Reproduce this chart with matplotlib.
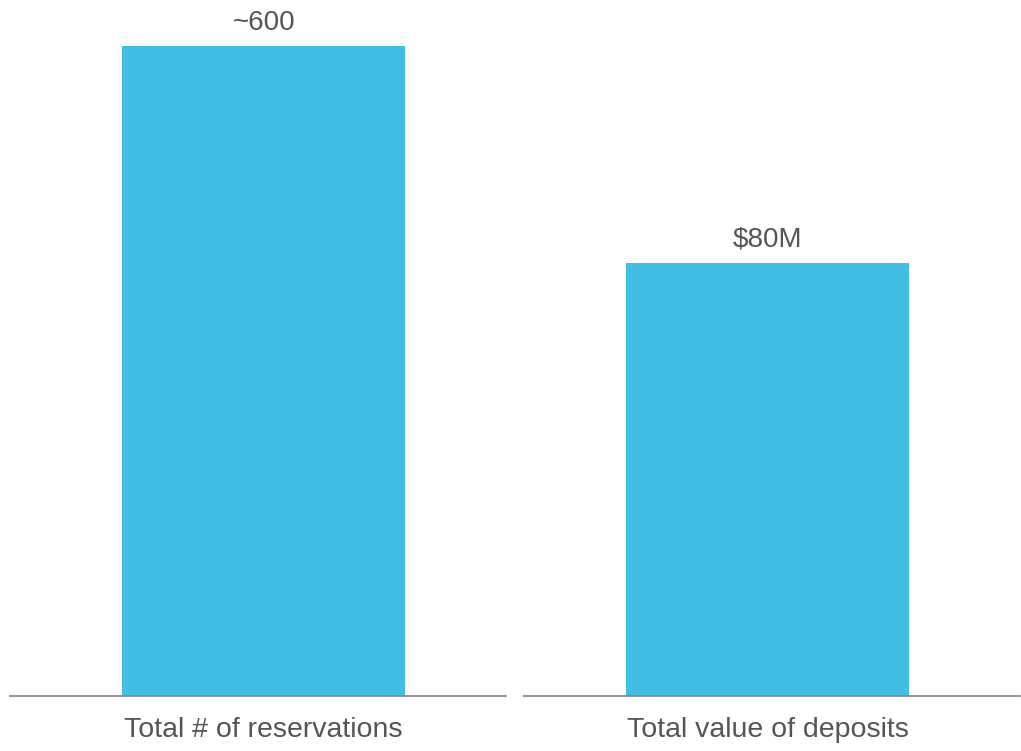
import matplotlib.pyplot as plt

categories = ["Total # of reservations", "Total value of deposits"]
values = [600, 80]
value_labels = ["~600", "$80M"]
ylims = [615, 123]

plt.rcParams['font.family'] = ['Liberation Sans', 'DejaVu Sans']
bar_color = '#41BEE6'
text_color = '#555555'

fig = plt.figure(figsize=(10.21, 7.51), dpi=100)
lefts = [10 / 1021, 524 / 1021]
xlims = [(-0.895, 0.855), (-0.86, 0.89)]
for i in range(len(categories)):
    ax = fig.add_axes([lefts[i], 55 / 751, 496 / 1021, 666 / 751])
    ax.bar([0], [values[i]], width=1.0, color=bar_color)
    ax.set_xlim(*xlims[i])
    ax.set_ylim(0, ylims[i])
    ax.text(0, values[i] + ylims[i] * 0.016, value_labels[i], ha='center', va='bottom',
            fontsize=20, color=text_color)
    for s in ['top', 'right', 'left']:
        ax.spines[s].set_visible(False)
    ax.spines['bottom'].set_color('#8a8a8a')
    ax.spines['bottom'].set_linewidth(1.3)
    ax.set_yticks([])
    ax.set_xticks([0])
    ax.set_xticklabels([categories[i]], fontsize=20.5, color=text_color)
    ax.tick_params(axis='x', length=0, pad=15)

fig.savefig("out.png", dpi=100)
